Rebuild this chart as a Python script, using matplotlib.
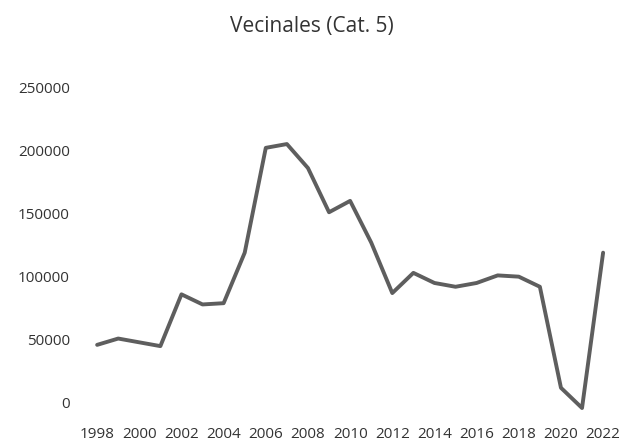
import matplotlib
matplotlib.use("Agg")
import matplotlib.pyplot as plt

# data
years = [1998, 1999, 2000, 2001, 2002, 2003, 2004, 2005, 2006, 2007, 2008, 2009,
         2010, 2011, 2012, 2013, 2014, 2015, 2016, 2017, 2018, 2019, 2020, 2021, 2022]
vecinales = [46000, 51000, 48000, 45000, 86000, 78000, 79000, 119000, 202000, 205000,
             186000, 151000, 160000, 127000, 87000, 103000, 95000, 92000, 95000, 101000,
             100000, 92000, 12000, -4000, 119000]
xticks = list(range(1998, 2023, 2))
yticks = [0, 50000, 100000, 150000, 200000, 250000]

plt.rcParams['font.family'] = ['Open Sans', 'DejaVu Sans']

fig = plt.figure(figsize=(6.23, 4.44), dpi=100)
ax = fig.add_axes([0.139, 0.064, 0.846, 0.768])

ax.plot(years, vecinales, color="#5e5e5e", linewidth=2.8, solid_capstyle="round")

ax.set_xlim(1997.5, 2022.5)
ax.set_ylim(-10000, 260000)
ax.set_xticks(xticks)
ax.set_xticklabels([str(y) for y in xticks])
ax.set_yticks(yticks)
ax.set_yticklabels([str(v) for v in yticks])
ax.tick_params(axis="both", length=0, labelsize=11, colors="#333333")
ax.tick_params(axis="x", pad=8)
ax.tick_params(axis="y", pad=12)
for s in ax.spines.values():
    s.set_visible(False)

fig.text(0.5, 0.94, "Vecinales (Cat. 5)", ha="center", va="center",
         fontsize=15, color="#333333")

fig.savefig("out.png", dpi=100)
